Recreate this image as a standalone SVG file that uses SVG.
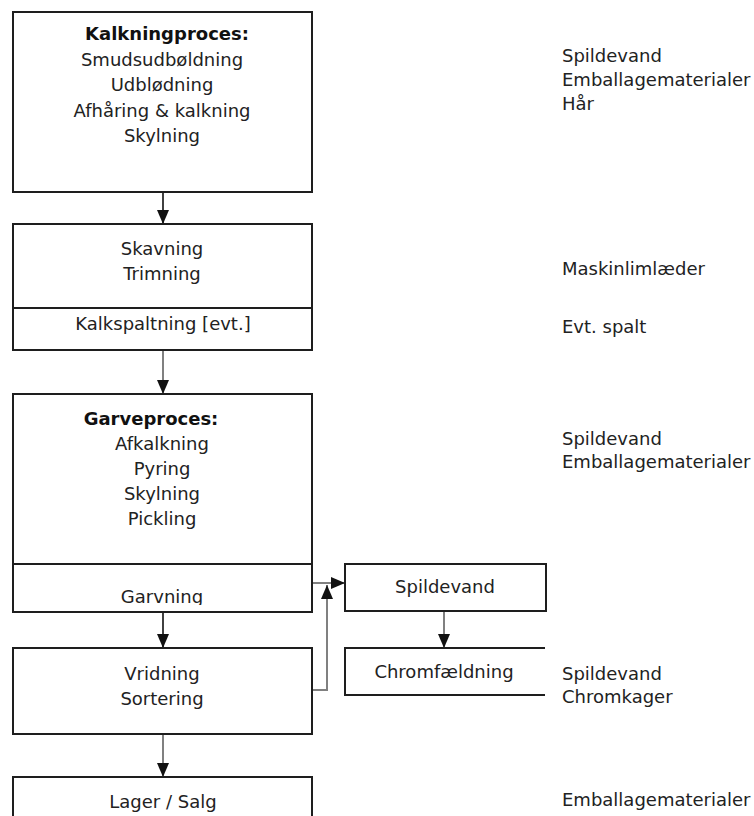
<svg xmlns="http://www.w3.org/2000/svg" width="754" height="816" viewBox="0 0 754 816">
<style>
.box{fill:#fff;stroke:#1e1e1e;stroke-width:2}
.div{stroke:#1e1e1e;stroke-width:2;fill:none}
.t{font-family:"DejaVu Sans","Verdana",sans-serif;font-size:18px;fill:#222}
.c{text-anchor:middle}
.b{font-weight:bold;fill:#111}
.k{stroke:#111;stroke-width:1.6;fill:none}
.g{stroke:#808080;stroke-width:2;fill:none}
</style>
<defs>
<marker id="ah" viewBox="0 0 14 12" refX="14" refY="6" markerWidth="14" markerHeight="12" markerUnits="userSpaceOnUse" orient="auto">
<path d="M0,0 L14,6 L0,12 z" fill="#111"/>
</marker>
<clipPath id="garvclip"><rect x="13" y="564" width="300" height="41"/></clipPath>
</defs>
<rect width="754" height="816" fill="#fff"/>

<g id="connectors">
<line class="k" x1="163" y1="192" x2="163" y2="224" marker-end="url(#ah)"/>
<line class="g" x1="163" y1="350" x2="163" y2="394" marker-end="url(#ah)"/>
<line class="k" x1="163" y1="612" x2="163" y2="648" marker-end="url(#ah)"/>
<line class="g" x1="163" y1="734" x2="163" y2="777" marker-end="url(#ah)"/>
<line class="g" x1="444" y1="611" x2="444" y2="648" marker-end="url(#ah)"/>
<line class="g" x1="312" y1="583" x2="345" y2="583" marker-end="url(#ah)"/>
<polyline class="g" points="312,690 327,690 327,585" marker-end="url(#ah)"/>
</g>

<g id="kalkning">
<rect class="box" x="13" y="12" width="299" height="180"/>
<text class="t c b" x="167" y="40">Kalkningproces:</text>
<text class="t c" x="162" y="65.5">Smudsudbøldning</text>
<text class="t c" x="162" y="91">Udblødning</text>
<text class="t c" x="162" y="116.5">Afhåring &amp; kalkning</text>
<text class="t c" x="162" y="142">Skylning</text>
</g>

<g id="skavning">
<rect class="box" x="13" y="224" width="299" height="126"/>
<line class="div" x1="13" y1="308" x2="312" y2="308"/>
<text class="t c" x="162" y="255">Skavning</text>
<text class="t c" x="162" y="280">Trimning</text>
<text class="t c" x="163" y="330">Kalkspaltning [evt.]</text>
</g>

<g id="garveproces">
<rect class="box" x="13" y="394" width="299" height="218"/>
<line class="div" x1="13" y1="564" x2="312" y2="564"/>
<text class="t c b" x="151" y="425">Garveproces:</text>
<text class="t c" x="162" y="450">Afkalkning</text>
<text class="t c" x="162" y="475">Pyring</text>
<text class="t c" x="162" y="500">Skylning</text>
<text class="t c" x="162" y="525">Pickling</text>
<text class="t c" x="162" y="603" clip-path="url(#garvclip)">Garvning</text>
</g>

<g id="vridning">
<rect class="box" x="13" y="648" width="299" height="86"/>
<text class="t c" x="162" y="680">Vridning</text>
<text class="t c" x="162" y="705">Sortering</text>
</g>

<g id="lager">
<rect class="box" x="13" y="777" width="299" height="60"/>
<text class="t c" x="163" y="808">Lager / Salg</text>
</g>

<g id="spildevand-box">
<rect class="box" x="345" y="564" width="201" height="47"/>
<text class="t c" x="445" y="593">Spildevand</text>
</g>

<g id="chromfaeldning">
<path class="div" d="M545,648 L345,648 L345,695 L545,695"/>
<text class="t c" x="444" y="678">Chromfældning</text>
</g>

<g id="outputs">
<text class="t" x="562" y="62">Spildevand</text>
<text class="t" x="562" y="86">Emballagematerialer</text>
<text class="t" x="562" y="110">Hår</text>
<text class="t" x="562" y="275">Maskinlimlæder</text>
<text class="t" x="562" y="333">Evt. spalt</text>
<text class="t" x="562" y="445">Spildevand</text>
<text class="t" x="562" y="468">Emballagematerialer</text>
<text class="t" x="562" y="680">Spildevand</text>
<text class="t" x="562" y="703">Chromkager</text>
<text class="t" x="562" y="806">Emballagematerialer</text>
</g>
</svg>
